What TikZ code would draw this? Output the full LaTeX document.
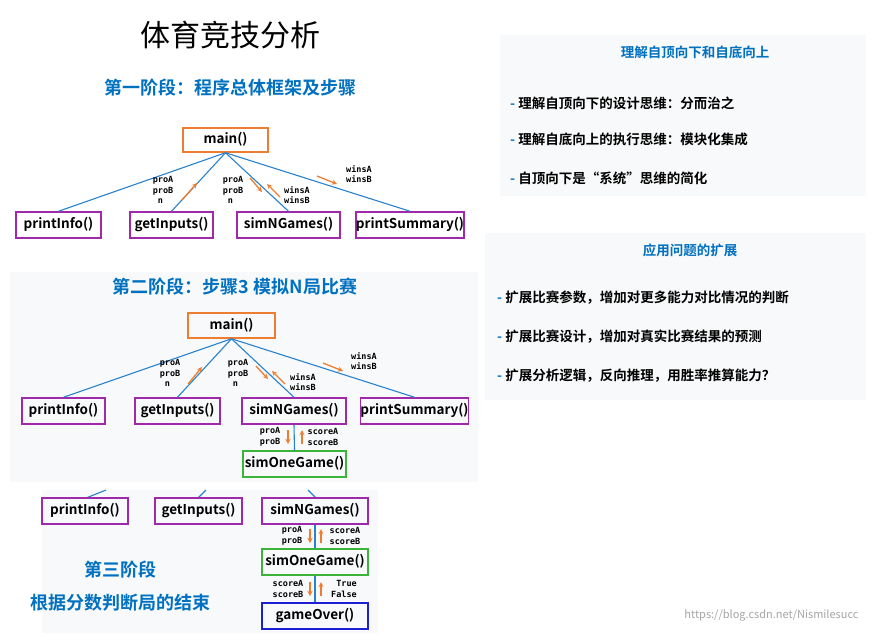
\documentclass[tikz,border=0pt]{standalone}
\usepackage{fontspec}
\setmainfont{Noto Sans CJK SC}[BoldFont={Noto Sans CJK SC Bold}]
\newfontfamily\monof{DejaVu Sans Mono}
\begin{document}
\begin{tikzpicture}[x=1pt,y=-1pt,
  fb/.style={draw,line width=1.5pt,inner sep=0pt,font=\bfseries\fontsize{13.5}{13.5}\selectfont,text height=10pt,text depth=3pt},
  pbox/.style={fb,draw=boxpurple},
  obox/.style={fb,draw=boxorange},
  gbox/.style={fb,draw=boxgreen},
  bbox/.style={fb,draw=boxblue},
  link/.style={draw=lineblue,line width=1.1pt},
  arr/.style={draw=boxorange,line width=1.3pt,-stealth},
  lab/.style={font=\monof\bfseries\fontsize{8.5}{10.5}\selectfont,align=left,inner sep=0pt},
  head/.style={font=\bfseries\fontsize{18}{18}\selectfont,text=headblue},
  rhead/.style={font=\bfseries\fontsize{13.5}{13.5}\selectfont,text=headblue},
  item/.style={font=\bfseries\fontsize{13.5}{13.5}\selectfont,anchor=west,inner sep=0pt},
  panel/.style={fill=panelgray,draw=none}]
\definecolor{lineblue}{RGB}{40,130,205}
\definecolor{headblue}{RGB}{0,112,192}
\definecolor{boxorange}{RGB}{237,125,49}
\definecolor{boxpurple}{RGB}{160,40,170}
\definecolor{boxgreen}{RGB}{60,180,60}
\definecolor{boxblue}{RGB}{30,30,210}
\definecolor{panelgray}{RGB}{248,249,250}
\useasboundingbox (0,0) rectangle (874,633);
\fill[white] (0,0) rectangle (874,633);
% panels
\fill[panel] (10,272) rectangle (478,482);
\fill[panel] (42,490) rectangle (378,633);
\fill[panel] (500,35) rectangle (866,196);
\fill[panel] (485,233) rectangle (866,400);
% titles
\node[font=\fontsize{30}{30}\selectfont] (title) at (230,35) {体育竞技分析};
\node[head] (h1) at (230,88) {第一阶段：程序总体框架及步骤};
% stage 1
\node[obox,minimum width=85pt,minimum height=24pt] (m1) at (225.5,140) {main()};
\node[pbox,minimum width=85pt,minimum height=26pt] (a1) at (58.5,225) {printInfo()};
\node[pbox,minimum width=83pt,minimum height=26pt] (b1) at (171.5,225) {getInputs()};
\node[pbox,minimum width=103pt,minimum height=26pt] (c1) at (288.5,225) {simNGames()};
\node[pbox,minimum width=106pt,minimum height=26pt] (d1) at (410,225) {printSummary()};
\draw[link] (m1.south) -- (a1.north);
\draw[link] (m1.south) -- (b1.north);
\draw[link] (m1.south) -- (c1.north);
\draw[link] (m1.south) -- (d1.north);
\node[lab] (l1a) at (163,190) {proA\\proB\\\ n};
\coordinate (p1a) at (182,200); \coordinate (p1b) at (197,183); \draw[arr] (p1a) -- (p1b);
\node[lab] (l1b) at (233,190) {proA\\proB\\\ n};
\coordinate (p1c) at (250,178); \coordinate (p1d) at (262,192); \draw[arr] (p1c) -- (p1d);
\coordinate (p1e) at (280,197); \coordinate (p1f) at (267,184); \draw[arr] (p1e) -- (p1f);
\node[lab] (l1c) at (297,195) {winsA\\winsB};
\coordinate (p1g) at (317,176); \coordinate (p1h) at (337,184); \draw[arr] (p1g) -- (p1h);
\node[lab] (l1d) at (359,174) {winsA\\winsB};
% stage 2
\node[head] (h2) at (235,287) {第二阶段：步骤3 模拟N局比赛};
\node[obox,minimum width=87pt,minimum height=25pt] (m2) at (231.5,325.5) {main()};
\node[pbox,minimum width=83pt,minimum height=26pt] (a2) at (63.5,411) {printInfo()};
\node[pbox,minimum width=85pt,minimum height=26pt] (b2) at (177.5,411) {getInputs()};
\node[pbox,minimum width=104pt,minimum height=26pt] (c2) at (294,411) {simNGames()};
\node[pbox,minimum width=107pt,minimum height=26pt] (d2) at (414.5,411) {printSummary()};
\node[gbox,minimum width=103pt,minimum height=26pt] (e2) at (294.5,464) {simOneGame()};
\draw[link] (m2.south) -- (a2.north);
\draw[link] (m2.south) -- (b2.north);
\draw[link] (m2.south) -- (c2.north);
\draw[link] (m2.south) -- (d2.north);
\draw[link] (c2.south) -- (e2.north);
\node[lab] (l2a) at (170,373) {proA\\proB\\\ n};
\coordinate (p2a) at (188,384); \coordinate (p2b) at (202,367); \draw[arr] (p2a) -- (p2b);
\node[lab] (l2b) at (238,373) {proA\\proB\\\ n};
\coordinate (p2c) at (256,366); \coordinate (p2d) at (268,379); \draw[arr] (p2c) -- (p2d);
\coordinate (p2e) at (285,384); \coordinate (p2f) at (272,371); \draw[arr] (p2e) -- (p2f);
\node[lab] (l2c) at (303,382) {winsA\\winsB};
\coordinate (p2g) at (323,363); \coordinate (p2h) at (343,371); \draw[arr] (p2g) -- (p2h);
\node[lab] (l2d) at (364,361) {winsA\\winsB};
\node[lab] (l2e) at (270,437) {proA\\proB};
\coordinate (p2i) at (288,430); \coordinate (p2j) at (288,444); \draw[arr] (p2i) -- (p2j);
\coordinate (p2k) at (302,444); \coordinate (p2l) at (302,430); \draw[arr] (p2k) -- (p2l);
\node[lab] (l2f) at (323,437) {scoreA\\scoreB};
% stage 3
\coordinate (s3a) at (86,498); \coordinate (s3b) at (106,490); \draw[link] (s3a) -- (s3b);
\coordinate (s3c) at (198,498); \coordinate (s3d) at (206,490); \draw[link] (s3c) -- (s3d);
\coordinate (s3e) at (316,498); \coordinate (s3f) at (308,490); \draw[link] (s3e) -- (s3f);
\node[pbox,minimum width=86pt,minimum height=26pt] (a3) at (85,511) {printInfo()};
\node[pbox,minimum width=87pt,minimum height=26pt] (b3) at (198.5,511) {getInputs()};
\node[pbox,minimum width=106pt,minimum height=26pt] (c3) at (315,511) {simNGames()};
\node[gbox,minimum width=106pt,minimum height=26pt] (e3) at (315,562) {simOneGame()};
\node[bbox,minimum width=106pt,minimum height=26pt] (g3) at (315,616) {gameOver()};
\draw[link] (c3.south) -- (e3.north);
\draw[link] (e3.south) -- (g3.north);
\node[lab] (l3a) at (292,536) {proA\\proB};
\coordinate (p3a) at (310,529); \coordinate (p3b) at (310,543); \draw[arr] (p3a) -- (p3b);
\coordinate (p3c) at (321,543); \coordinate (p3d) at (321,529); \draw[arr] (p3c) -- (p3d);
\node[lab] (l3b) at (345,536) {scoreA\\scoreB};
\node[lab] (l3c) at (288,589) {scoreA\\scoreB};
\coordinate (p3e) at (310,582); \coordinate (p3f) at (310,596); \draw[arr] (p3e) -- (p3f);
\coordinate (p3g) at (321,596); \coordinate (p3h) at (321,582); \draw[arr] (p3g) -- (p3h);
\node[lab] (l3d) at (344,589) {\ True\\False};
\node[head] (h3a) at (120,570) {第三阶段};
\node[head] (h3b) at (120,603) {根据分数判断局的结束};
% right panels
\node[rhead] (r1) at (695,52) {理解自顶向下和自底向上};
\node[item] (r1a) at (510,103) {\textcolor{headblue}{-}\ 理解自顶向下的设计思维：分而治之};
\node[item] (r1b) at (510,139) {\textcolor{headblue}{-}\ 理解自底向上的执行思维：模块化集成};
\node[item] (r1c) at (510,178) {\textcolor{headblue}{-}\ 自顶向下是“系统”思维的简化};
\node[rhead] (r2) at (690,250) {应用问题的扩展};
\node[item] (r2a) at (497,298) {\textcolor{headblue}{-}\ 扩展比赛参数，增加对更多能力对比情况的判断};
\node[item] (r2b) at (497,337) {\textcolor{headblue}{-}\ 扩展比赛设计，增加对真实比赛结果的预测};
\node[item] (r2c) at (497,376) {\textcolor{headblue}{-}\ 扩展分析逻辑，反向推理，用胜率推算能力？};
\node[font=\fontsize{11}{11}\selectfont,text=gray!70,anchor=east] (url) at (862,615) {https://blog.csdn.net/Nismilesucc};
\end{tikzpicture}
\end{document}
